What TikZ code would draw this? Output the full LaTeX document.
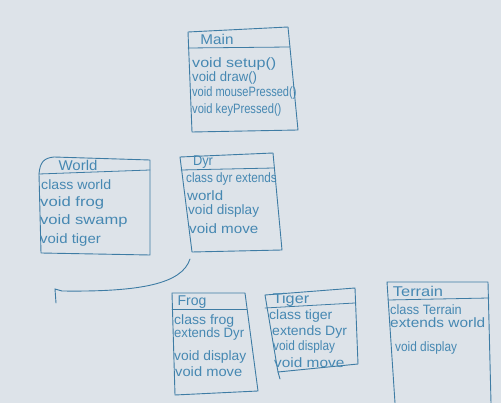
\documentclass[tikz,border=0pt]{standalone}
\usepackage{graphicx}
\usepackage{fontspec}
\setmainfont{Liberation Sans}
\definecolor{paper}{RGB}{221,227,233}
\definecolor{ink}{RGB}{62,124,164}
\definecolor{pen}{RGB}{70,136,178}
\newcommand\hs[2]{\scalebox{#1}[1.18]{#2}}
\tikzset{
  boxline/.style={draw=ink, line width=0.9pt, line join=round, line cap=round},
  hdrline/.style={draw=ink, line width=0.8pt, line cap=round},
  lbl/.style={text=pen, anchor=west, inner sep=0pt, font=\fontsize{11.5}{12}\selectfont},
  ttl/.style={text=pen, anchor=center, inner sep=0pt, font=\fontsize{12}{13}\selectfont},
  conn/.style={draw=ink, line width=0.9pt, line cap=round}
}
\begin{document}
\begin{tikzpicture}[x=1pt,y=-1pt]
\fill[paper] (0,0) rectangle (501,403);
\useasboundingbox (0,0) rectangle (501,403);

% ---------- Main ----------
\draw[boxline] (188,32) -- (288,27) -- (298,130) -- (192,132) -- cycle;
\draw[hdrline] (188,48) -- (290,47);
\node[ttl] (mainT) at (217,39) {\hs{1.27}{Main}};
\node[lbl] (m1) at (192,64) {\hs{1.40}{void setup()}};
\node[lbl] (m2) at (192,78) {\hs{1.14}{void draw()}};
\node[lbl] (m3) at (192,93) {\hs{0.96}{void mousePressed()}};
\node[lbl] (m4) at (192,110) {\hs{0.97}{void keyPressed()}};

% ---------- World ----------
\draw[boxline] (39,174) .. controls (40,162) and (44,158) .. (54,157) -- (150,160) -- (150,255) -- (41,253) -- cycle;
\draw[hdrline] (39,174) -- (150,170);
\node[ttl] (worldT) at (78,165) {\hs{1.25}{World}};
\node[lbl] (w1) at (41,185) {\hs{1.23}{class world}};
\node[lbl] (w2) at (40,203) {\hs{1.45}{void frog}};
\node[lbl] (w3) at (40,221) {\hs{1.44}{void swamp}};
\node[lbl] (w4) at (40,240) {\hs{1.30}{void tiger}};

% ---------- Dyr ----------
\draw[boxline] (180,157) -- (273,153) -- (282,250) -- (192,252) -- cycle;
\draw[hdrline] (181,170) -- (274,168);
\node[ttl] (dyrT) at (203,162) {\hs{1.07}{Dyr}};
\node[lbl] (d1) at (186,179) {\hs{1.02}{class dyr extends}};
\node[lbl] (d2) at (187,196) {\hs{1.31}{world}};
\node[lbl] (d3) at (188,211) {\hs{1.18}{void display}};
\node[lbl] (d4) at (189,229) {\hs{1.32}{void move}};

% ---------- Frog ----------
\draw[boxline] (172,293) -- (245,293) -- (258,391) -- (175,395) -- cycle;
\draw[hdrline] (172,309) -- (247,309);
\node[ttl] (frogT) at (192,302) {\hs{1.17}{Frog}};
\node[lbl] (f1) at (174,321) {\hs{1.22}{class frog}};
\node[lbl] (f2) at (174,334) {\hs{1.14}{extends Dyr}};
\node[lbl] (f3) at (174,357) {\hs{1.20}{void display}};
\node[lbl] (f4) at (175,372) {\hs{1.28}{void move}};

% ---------- Tiger ----------
\draw[boxline] (265,295) -- (355,288) -- (358,364) -- (278,372) -- cycle;
\draw[boxline] (278,372) -- (280,379);
\draw[hdrline] (265,308) -- (355,303);
\node[ttl] (tigerT) at (291,300) {\hs{1.35}{Tiger}};
\node[lbl] (t1) at (269,316) {\hs{1.22}{class tiger}};
\node[lbl] (t2) at (272,332) {\hs{1.22}{extends Dyr}};
\node[lbl] (t3) at (273,347) {\hs{1.03}{void display}};
\node[lbl] (t4) at (274,363) {\hs{1.34}{void move}};

% ---------- Terrain ----------
\draw[boxline] (395,403) -- (387,282) -- (488,282) -- (491,403);
\draw[hdrline] (388,300) -- (489,298);
\node[ttl] (terrT) at (418,291) {\hs{1.37}{Terrain}};
\node[lbl] (r1) at (390,310) {\hs{1.11}{class Terrain}};
\node[lbl] (r2) at (390,323) {\hs{1.34}{extends world}};
\node[lbl] (r3) at (395,348) {\hs{1.03}{void display}};

% ---------- connector ----------
\coordinate (cS) at (190,259);
\coordinate (cC) at (62,291);
\coordinate (cE) at (55,289);
\coordinate (cT) at (56,303);
\draw[conn] (cS) .. controls (182,284) and (140,292) .. (cC) -- (cE) -- (cT);
\end{tikzpicture}
\end{document}
